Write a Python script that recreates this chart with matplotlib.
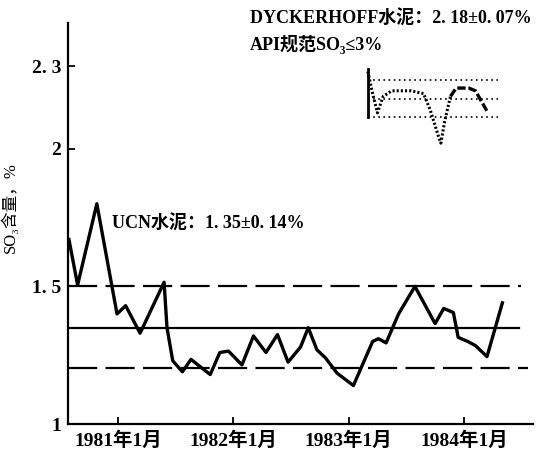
import matplotlib
matplotlib.use("Agg")
import matplotlib.pyplot as plt

# Police: latin en serif, chinois via Noto CJK
plt.rcParams['font.family'] = ['Liberation Serif', 'Noto Sans CJK SC', 'DejaVu Sans']
plt.rcParams['font.weight'] = 'bold'
plt.rcParams['lines.scale_dashes'] = False

# Données UCN (mois depuis janvier 1981, teneur SO3 %)
ucn_month = [-5.1, -4.2, -2.2, -0.1, 0.8, 2.3, 4.8, 5.1, 5.7, 6.7, 7.6, 8.5, 9.6,
             10.6, 11.5, 12.9, 14.1, 15.4, 16.6, 17.7, 19.0, 19.8, 20.7, 21.6,
             22.8, 24.5, 26.5, 27.1, 27.9, 29.2, 30.9, 33.0, 33.9, 34.9, 35.4,
             36.4, 37.2, 38.4, 40.0]
ucn_so3 = [1.67, 1.505, 1.80, 1.40, 1.43, 1.33, 1.515, 1.35, 1.23, 1.19, 1.235,
           1.21, 1.18, 1.26, 1.265, 1.215, 1.32, 1.26, 1.325, 1.225, 1.28, 1.35,
           1.27, 1.24, 1.185, 1.14, 1.30, 1.31, 1.295, 1.40, 1.50, 1.365, 1.42,
           1.405, 1.315, 1.30, 1.285, 1.245, 1.44]
ucn_mean = 1.35
ucn_upper = 1.50
ucn_lower = 1.205

# Données DYCKERHOFF (petit encart)
dyk_month_a = [26.0, 26.5, 27.0, 27.6, 28.5, 30.5, 31.8, 32.5, 33.3, 33.6, 34.0, 34.6]
dyk_so3_a = [2.28, 2.20, 2.13, 2.19, 2.21, 2.21, 2.20, 2.14, 2.05, 2.02, 2.10, 2.19]
dyk_month_b = [34.6, 35.2, 36.5, 37.2, 38.5]
dyk_so3_b = [2.19, 2.22, 2.22, 2.21, 2.13]
dyk_levels = [2.25, 2.18, 2.115]

yticks = [1, 1.5, 2, 2.3]
ytick_labels = ["1", "1. 5", "2", "2. 3"]
xticks = [0, 12, 24, 36]
xtick_labels = ["1981年1月", "1982年1月", "1983年1月", "1984年1月"]

fig = plt.figure(figsize=(5.44, 4.61), dpi=100)
ax = fig.add_axes([0.125, 0.080, 0.855, 0.870])

x0, x1 = -5.2, 43.2
ax.set_xlim(x0, x1)
ax.set_ylim(1.0, 2.456)

# lignes de contrôle
ax.plot([x0, 41.7], [ucn_mean, ucn_mean], color='black', lw=1.6)
ax.plot([x0, 41.9], [ucn_upper, ucn_upper], color='black', lw=1.6,
        linestyle=(0, (21, 6)))
ax.plot([x0, 42.7], [ucn_lower, ucn_lower], color='black', lw=1.6,
        linestyle=(0, (21, 6)))

# courbe principale
ax.plot(ucn_month, ucn_so3, color='black', lw=2.4, solid_joinstyle='round')

# encart DYCKERHOFF
for lev in dyk_levels:
    ax.plot([26.0, 39.5], [lev, lev], color='black', lw=1.2, linestyle=(0, (1.2, 2.5)))
ax.plot([26.0, 26.0], [dyk_levels[-1], 2.29], color='black', lw=2)
ax.plot(dyk_month_a, dyk_so3_a, color='black', lw=2.2, linestyle=(0, (1.5, 1.5)))
ax.plot(dyk_month_b, dyk_so3_b, color='black', lw=2.4, linestyle=(0, (6, 2)))

# axes
for s in ['top', 'right']:
    ax.spines[s].set_visible(False)
ax.spines['left'].set_linewidth(1.6)
ax.spines['bottom'].set_linewidth(1.6)
ax.spines['left'].set_bounds(1.0, 2.456)

ax.set_yticks(yticks)
ax.set_yticklabels(ytick_labels, fontsize=14)
ax.set_xticks(xticks)
ax.set_xticklabels(xtick_labels, fontsize=14)
ax.tick_params(direction='in', length=5, width=1.3, pad=5)

ax.set_ylabel("SO₃含量，%", fontsize=12)
ax.yaxis.set_label_coords(-0.105, 0.54)

ax.text(-0.6, 1.73, "UCN水泥：1. 35±0. 14%", fontsize=13, va='center', ha='left')
fig.text(250 / 544, 1 - 18 / 461, "DYCKERHOFF水泥：2. 18±0. 07%", fontsize=13,
         va='center', ha='left')
fig.text(250 / 544, 1 - 45 / 461, "API规范SO₃≤3%", fontsize=13,
         va='center', ha='left')

fig.savefig("out.png", dpi=100, facecolor='white')
